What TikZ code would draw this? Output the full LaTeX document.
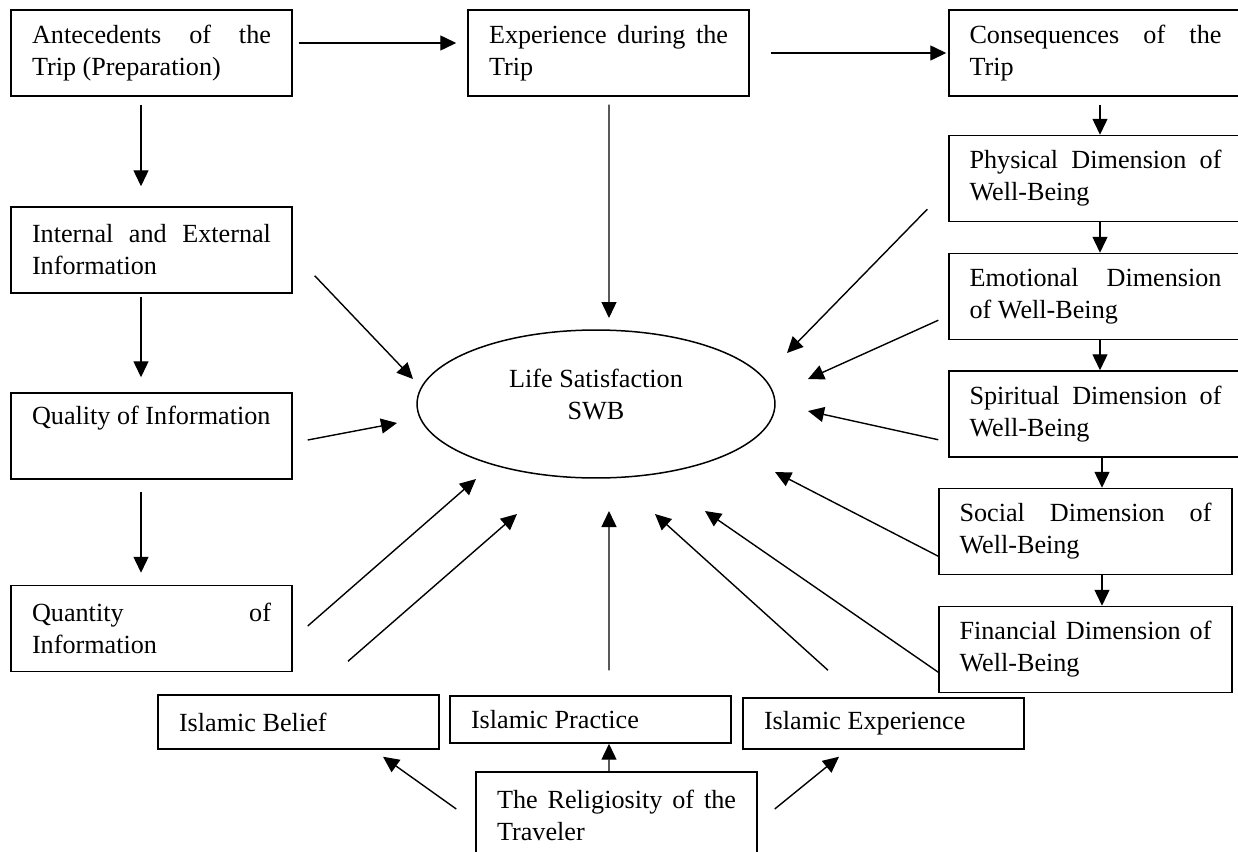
\documentclass[tikz,border=0pt]{standalone}
\usepackage{fontspec}
\setmainfont{Liberation Serif}
\usetikzlibrary{arrows.meta,shapes.geometric}
\tolerance=10000
\hbadness=10000
\begin{document}
\begin{tikzpicture}[x=0.02cm,y=-0.02cm,
  font=\fontsize{14.9}{18.2}\selectfont,
  box/.style={draw, line width=0.3mm, inner xsep=0.42cm, inner ysep=0pt,
    text width=4.78cm, minimum height=1.72cm, align=justify},
  rbox/.style={box, inner xsep=0.41cm, text width=5.04cm},
  sbox/.style={box, align=flush left},
  arr/.style={line width=0.28mm, -{Triangle[length=3.2mm,width=3mm]}}]
\clip (0,0) rectangle (1238,852);
% boxes
\node[box] (ante) at (151.5,53) {Antecedents of the\linebreak Trip (Preparation)};
\node[box] (exper) at (608.5,53) {Experience during the\linebreak Trip};
\node[rbox] (cons) at (1095.5,53) {Consequences of the\linebreak Trip};
\node[rbox] (phys) at (1095.5,178.5) {Physical Dimension of\linebreak Well-Being};
\node[rbox] (emo) at (1095.5,296.5) {Emotional Dimension\linebreak of Well-Being};
\node[rbox] (spir) at (1095.5,414) {Spiritual Dimension of\linebreak Well-Being};
\node[rbox] (soc) at (1085.5,531.5) {Social Dimension of\linebreak Well-Being};
\node[rbox] (fin) at (1085.5,649.5) {Financial Dimension of\linebreak Well-Being};
\node[box] (int) at (151.5,250) {Internal and External\linebreak Information};
\node[box] (qual) at (151.5,436) {\mbox{Quality of Information}\linebreak\strut};
\node[box] (quan) at (151.5,628.5) {Quantity of\linebreak Information};
\node[sbox, minimum height=1.08cm] (belief) at (298.5,722) {Islamic Belief};
\node[sbox, minimum height=0.94cm] (pract) at (590.5,719.5) {Islamic Practice};
\node[sbox, minimum height=1.02cm] (iexp) at (883.5,723.5) {Islamic Experience};
\node[box] (relig) at (616.5,815) {The Religiosity of the\linebreak Traveler};
\node[draw, ellipse, line width=0.3mm, minimum width=7.16cm, minimum height=2.96cm, inner sep=0pt] (ell) at (596,404) {};
\node[align=center] (elltext) at (596,394) {Life Satisfaction\\SWB};
% top row and right column
\draw[arr] ([shift={(6,-10)}]ante.east) -- ([shift={(-11,-10)}]exper.west);
\draw[arr] ([shift={(21,0)}]exper.east) -- ([shift={(-2,0)}]cons.west);
\draw[arr] ([shift={(4.5,8)}]cons.south) -- ([shift={(4.5,0)}]phys.north);
\draw[arr] ([shift={(4.5,0)}]phys.south) -- ([shift={(4.5,0)}]emo.north);
\draw[arr] ([shift={(4.5,0)}]emo.south) -- ([shift={(4.5,0)}]spir.north);
\draw[arr] ([shift={(6.5,0)}]spir.south) -- ([shift={(16.5,0)}]soc.north);
\draw[arr] ([shift={(16.5,0)}]soc.south) -- ([shift={(16.5,0)}]fin.north);
% left column
\draw[arr] ([shift={(-10.5,8)}]ante.south) -- ([shift={(-10.5,-20)}]int.north);
\draw[arr] ([shift={(-10.5,3)}]int.south) -- ([shift={(-10.5,-15)}]qual.north);
\draw[arr] ([shift={(-10.5,12)}]qual.south) -- ([shift={(-10.5,-12)}]quan.north);
% into ellipse
\draw[arr] ([shift={(0.5,8)}]exper.south) -- ([shift={(13,-86)}]ell.center);
\draw[arr] ([shift={(22,-18)}]int.south east) -- ([shift={(-183,-25)}]ell.center);
\draw[arr] ([shift={(15,4)}]qual.east) -- ([shift={(-199,19)}]ell.center);
\draw[arr] ([shift={(15,-2.5)}]quan.east) -- ([shift={(-120,75)}]ell.center);
\draw[arr] ([shift={(49.5,-33)}]belief.north) -- ([shift={(-79,110)}]ell.center);
\draw[arr] ([shift={(18.5,-25)}]pract.north) -- ([shift={(13,107)}]ell.center);
\draw[arr] ([shift={(-55.5,-27)}]iexp.north) -- ([shift={(59,110)}]ell.center);
\draw[arr] ([shift={(0,-21)}]fin.south west) -- ([shift={(109,107)}]ell.center);
\draw[arr] ([shift={(0,-19)}]soc.south west) -- ([shift={(179,68)}]ell.center);
\draw[arr] ([shift={(-10,-18)}]spir.south west) -- ([shift={(212,7)}]ell.center);
\draw[arr] ([shift={(-10,-20)}]emo.south west) -- ([shift={(212,-25)}]ell.center);
\draw[arr] ([shift={(-21,-13)}]phys.south west) -- ([shift={(191,-51)}]ell.center);
% religiosity
\draw[arr] ([shift={(-19,-6)}]relig.west) -- ([shift={(84.5,7)}]belief.south);
\draw[arr] ([shift={(-7.5,0)}]relig.north) -- ([shift={(18.5,0)}]pract.south);
\draw[arr] ([shift={(17,-6)}]relig.east) -- ([shift={(-44.5,7)}]iexp.south);
\end{tikzpicture}
\end{document}
